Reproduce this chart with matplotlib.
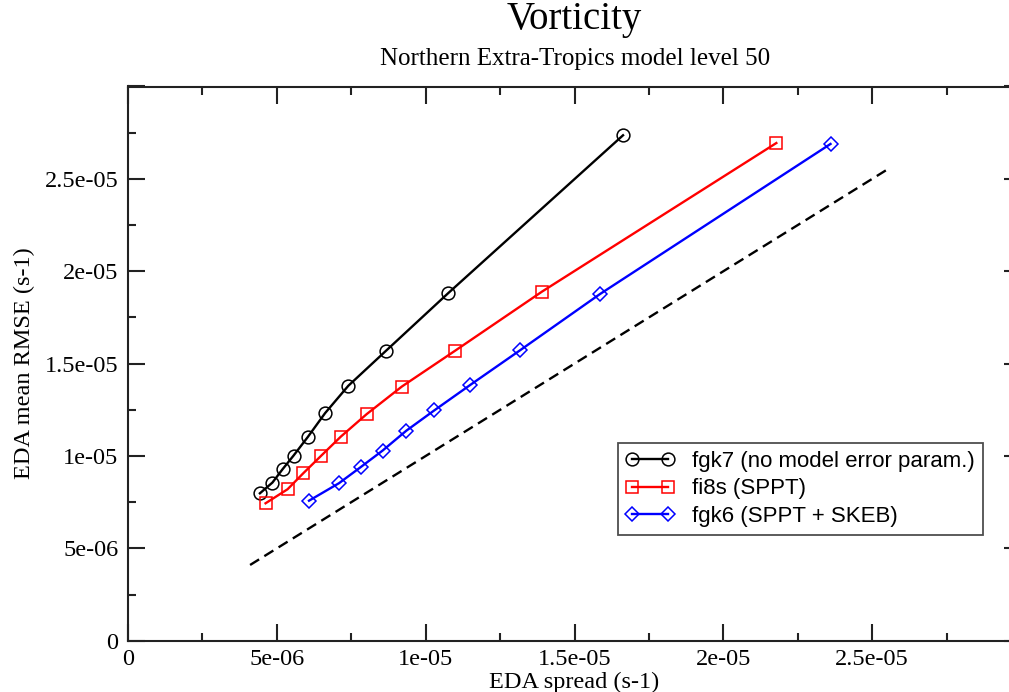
import matplotlib
matplotlib.use('Agg')
import matplotlib.pyplot as plt
import matplotlib as mpl
from matplotlib.ticker import MultipleLocator, FuncFormatter

mpl.rc('font', family='serif', size=17.5)
mpl.rcParams['font.serif'] = ['Liberation Serif', 'DejaVu Serif']
mpl.rcParams['font.sans-serif'] = ['Liberation Sans', 'DejaVu Sans']

# EDA spread / RMSE
fgk7_spread = [4.43e-6, 4.85e-6, 5.19e-6, 5.56e-6, 6.04e-6, 6.62e-6, 7.40e-6, 8.65e-6, 1.076e-5, 1.663e-5]
fgk7_rmse = [7.98e-6, 8.56e-6, 9.28e-6, 1.002e-5, 1.103e-5, 1.232e-5, 1.380e-5, 1.567e-5, 1.882e-5, 2.736e-5]

fi8s_spread = [4.62e-6, 5.36e-6, 5.89e-6, 6.48e-6, 7.15e-6, 8.02e-6, 9.20e-6, 1.099e-5, 1.391e-5, 2.178e-5]
fi8s_rmse = [7.44e-6, 8.20e-6, 9.07e-6, 1.000e-5, 1.105e-5, 1.227e-5, 1.376e-5, 1.570e-5, 1.890e-5, 2.694e-5]

fgk6_spread = [6.08e-6, 7.09e-6, 7.81e-6, 8.55e-6, 9.35e-6, 1.029e-5, 1.150e-5, 1.316e-5, 1.585e-5, 2.360e-5]
fgk6_rmse = [7.58e-6, 8.53e-6, 9.39e-6, 1.029e-5, 1.137e-5, 1.247e-5, 1.385e-5, 1.571e-5, 1.876e-5, 2.689e-5]

diag = [4.1e-6, 2.56e-5]

labels = ["fgk7 (no model error param.)", "fi8s (SPPT)", "fgk6 (SPPT + SKEB)"]


def tick_label(v, pos):
    # xmgrace style labels, nothing at the far end of the axis
    if v == 0:
        return '0'
    if v > 2.9e-5:
        return ''
    return '%g' % v


fig = plt.figure(figsize=(10.09, 6.92), dpi=100)
# right edge of the frame falls just outside the picture, as in the original
ax = fig.add_axes([0.1269, 0.0741, 0.885, 0.8009])

ax.plot(diag, diag, color='black', linestyle=(0, (4.5, 2.6)), linewidth=1.7)
ax.plot(fgk7_spread, fgk7_rmse, color='black', linewidth=1.7, marker='o',
        markersize=9.2, markerfacecolor='none', markeredgewidth=1.1, label=labels[0])
ax.plot(fi8s_spread, fi8s_rmse, color='red', linewidth=1.7, marker='s',
        markersize=9, markerfacecolor='none', markeredgewidth=1.1, label=labels[1])
ax.plot(fgk6_spread, fgk6_rmse, color='blue', linewidth=1.7, marker='D',
        markersize=6.8, markerfacecolor='none', markeredgewidth=1.1, label=labels[2])

ax.set_xlim(0, 3e-5)
ax.set_ylim(0, 3e-5)

for axis in (ax.xaxis, ax.yaxis):
    axis.set_major_locator(MultipleLocator(5e-6))
    axis.set_minor_locator(MultipleLocator(2.5e-6))
    axis.set_major_formatter(FuncFormatter(tick_label))

ax.tick_params(which='both', direction='in', top=True, right=True, width=1.5, colors='#222222',
               labelcolor='black')
ax.tick_params(which='major', length=12)
ax.tick_params(which='minor', length=6)
ax.tick_params(axis='y', pad=7)
ax.tick_params(axis='x', pad=6)
for s in ax.spines.values():
    s.set_linewidth(1.5)
    s.set_color('#222222')

ax.set_xlabel("EDA spread (s-1)", labelpad=1)
ax.set_ylabel("EDA mean RMSE (s-1)", labelpad=7)

fig.text(0.5695, 0.972, "Vorticity", ha='center', va='center', fontsize=28)
fig.text(0.5695, 0.915, "Northern Extra-Tropics model level 50", ha='center', va='center', fontsize=18)

leg = ax.legend(loc='upper left', bbox_to_anchor=(0.5487, 0.3567), borderaxespad=0,
                fancybox=False, numpoints=2, handlelength=2.2, handletextpad=0.8,
                labelspacing=0.3, borderpad=0.35,
                prop={'family': 'sans-serif', 'size': 16})
leg.get_frame().set_edgecolor('#222222')
leg.get_frame().set_linewidth(1.3)

fig.savefig('out.png', dpi=100)
